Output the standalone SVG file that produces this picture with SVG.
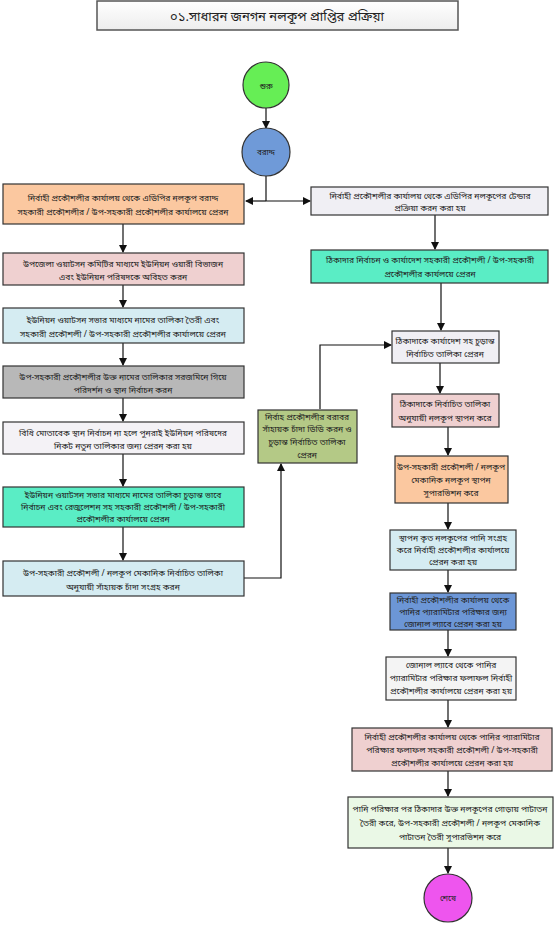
<svg xmlns="http://www.w3.org/2000/svg" width="554" height="928" viewBox="0 0 554 928">
<defs>
<marker id="ah" markerWidth="8" markerHeight="8" refX="7" refY="4" orient="auto" markerUnits="userSpaceOnUse"><path d="M0,0 L8,4 L0,8 Z" fill="#111"/></marker>
<linearGradient id="tg" x1="0" y1="0" x2="0" y2="1"><stop offset="0" stop-color="#ffffff"/><stop offset="1" stop-color="#ededed"/></linearGradient>
</defs>
<style>
.b{stroke:#333;stroke-width:1.2}
.t{font-family:"Noto Sans Bengali","Noto Sans",sans-serif;font-size:8.5px;fill:#222;text-anchor:middle}
.c{stroke:#111;stroke-width:1.2;fill:none}
</style>
<rect width="554" height="928" fill="#fff"/>
<g id="title"><rect x="97" y="1" width="361" height="29" fill="url(#tg)" stroke="#555" stroke-width="1.5"/><text class="t" x="277" y="21" style="font-size:13px">০১.সাধারন জনগন নলকূপ প্রাপ্তির প্রক্রিয়া</text></g>
<g id="connectors">
<line class="c" x1="266" y1="108" x2="266" y2="128" marker-end="url(#ah)"/>
<line class="c" x1="266" y1="176" x2="266" y2="201"/>
<line class="c" x1="266" y1="201" x2="246" y2="201" marker-end="url(#ah)"/>
<line class="c" x1="266" y1="201" x2="310" y2="201" marker-end="url(#ah)"/>
<line class="c" x1="123" y1="224" x2="123" y2="252" marker-end="url(#ah)"/>
<line class="c" x1="123" y1="285" x2="123" y2="307" marker-end="url(#ah)"/>
<line class="c" x1="123" y1="343" x2="123" y2="365" marker-end="url(#ah)"/>
<line class="c" x1="123" y1="398" x2="123" y2="421" marker-end="url(#ah)"/>
<line class="c" x1="123" y1="454" x2="123" y2="486" marker-end="url(#ah)"/>
<line class="c" x1="123" y1="527" x2="123" y2="560" marker-end="url(#ah)"/>
<polyline class="c" points="244,578 281,578 281,464" marker-end="url(#ah)"/>
<polyline class="c" points="320,409 320,345 391,345" marker-end="url(#ah)"/>
<line class="c" x1="435" y1="215" x2="435" y2="249" marker-end="url(#ah)"/>
<line class="c" x1="441" y1="283" x2="441" y2="330" marker-end="url(#ah)"/>
<line class="c" x1="440" y1="363" x2="440" y2="393" marker-end="url(#ah)"/>
<line class="c" x1="448" y1="427" x2="448" y2="455" marker-end="url(#ah)"/>
<line class="c" x1="448" y1="503" x2="448" y2="529" marker-end="url(#ah)"/>
<line class="c" x1="448" y1="570" x2="448" y2="592" marker-end="url(#ah)"/>
<line class="c" x1="448" y1="630" x2="448" y2="656" marker-end="url(#ah)"/>
<line class="c" x1="448" y1="700" x2="448" y2="727" marker-end="url(#ah)"/>
<line class="c" x1="448" y1="771" x2="448" y2="796" marker-end="url(#ah)"/>
<line class="c" x1="448" y1="848" x2="448" y2="873" marker-end="url(#ah)"/>
</g>
<g id="start"><circle cx="266" cy="85" r="23" fill="#66ee55" stroke="#333" stroke-width="1.2"/><text class="t" x="266" y="89">শুরু</text></g>
<g id="alloc"><circle cx="266" cy="152" r="24" fill="#6f9ad8" stroke="#333" stroke-width="1.2"/><text class="t" x="266" y="155" style="font-size:8px">বরাদ্দ</text></g>
<g id="l1"><rect class="b" x="3" y="184" width="241" height="40" fill="#fbc8a0"/><text class="t" x="123" y="201">নির্বাহী প্রকৌশলীর কার্যালয় থেকে এডিপির নলকূপ বরাদ্দ</text><text class="t" x="123" y="215">সহকারী প্রকৌশলীর / উপ-সহকারী প্রকৌশলীর কার্যালয়ে প্রেরন</text></g>
<g id="l2"><rect class="b" x="3" y="253" width="241" height="32" fill="#efd0d0"/><text class="t" x="123" y="267">উপজেলা ওয়াটসন কমিটির মাধ্যমে ইউনিয়ন ওয়ারী বিভাজন</text><text class="t" x="123" y="280">এবং ইউনিয়ন পরিষদকে  অবিহত করন</text></g>
<g id="l3"><rect class="b" x="3" y="308" width="241" height="35" fill="#d5ecf2"/><text class="t" x="123" y="323">ইউনিয়ন ওয়াটসন সভার মাধ্যমে নামের  তালিকা তৈরী এবং</text><text class="t" x="123" y="337">সহকারী প্রকৌশলী / উপ-সহকারী প্রকৌশলীর কার্যালয়ে প্রেরন</text></g>
<g id="l4"><rect class="b" x="3" y="366" width="241" height="32" fill="#b8b8b8"/><text class="t" x="123" y="380">উপ-সহকারী প্রকৌশলীর উক্ত নামের তালিকার সরজমিনে গিয়ে</text><text class="t" x="123" y="393">পরিদর্শন ও স্থান নির্বাচন করন</text></g>
<g id="l5"><rect class="b" x="3" y="422" width="241" height="32" fill="#f4f2f6"/><text class="t" x="123" y="436">বিধি মোতাবেক স্থান নির্বাচন না হলে পুনরাই ইউনিয়ন পরিষদের</text><text class="t" x="123" y="449">নিকট নতুন তালিকার জন্য প্রেরন করা হয়</text></g>
<g id="l6"><rect class="b" x="3" y="487" width="241" height="40" fill="#5aedc5"/><text class="t" x="123" y="498">ইউনিয়ন ওয়াটসন সভার মাধ্যমে নামের তালিকা চুড়ান্ত ভাবে</text><text class="t" x="123" y="510">নির্বাচন এবং রেজুলেশন সহ সহকারী প্রকৌশলী / উপ-সহকারী</text><text class="t" x="123" y="522">প্রকৌশলীর কার্যালয়ে প্রেরন</text></g>
<g id="l7"><rect class="b" x="3" y="561" width="241" height="35" fill="#d5ecf2"/><text class="t" x="123" y="576">উপ-সহকারী প্রকৌশলী / নলকূপ মেকানিক নির্বাচিত তালিকা</text><text class="t" x="123" y="590">অনুযায়ী সাঁহায়ক চাঁদা সংগ্রহ করন</text></g>
<g id="m1"><rect class="b" x="258" y="410" width="99" height="53" fill="#b4c986"/><text class="t" x="307" y="420">নির্বাহ প্রকৌশলীর বরাবর</text><text class="t" x="307" y="432">সাঁহায়ক চাঁদা ডিডি করন ও</text><text class="t" x="307" y="445">চুড়ান্ত নির্বাচিত তালিকা</text><text class="t" x="307" y="458">প্রেরন</text></g>
<g id="r1"><rect class="b" x="311" y="187" width="237" height="28" fill="#f0eff4"/><text class="t" x="430" y="199">নির্বাহী প্রকৌশলীর কার্যালয় থেকে এডিপির নলকূপের টেন্ডার</text><text class="t" x="430" y="211">প্রক্রিয়া করন করা হয়</text></g>
<g id="r2"><rect class="b" x="311" y="250" width="237" height="33" fill="#5aedc5"/><text class="t" x="430" y="263">ঠিকাদার নির্বাচন ও কার্যাদেশ সহকারী প্রকৌশলী / উপ-সহকারী</text><text class="t" x="430" y="277">প্রকৌশলীর কার্যলয়ে প্রেরন</text></g>
<g id="r3"><rect class="b" x="392" y="331" width="107" height="32" fill="#f0eff4"/><text class="t" x="445" y="344">ঠিকাদাকে কার্যাদেশ সহ চুড়ান্ত</text><text class="t" x="445" y="357">নির্বাচিত তালিকা প্রেরন</text></g>
<g id="r4"><rect class="b" x="392" y="394" width="107" height="33" fill="#efd0d0"/><text class="t" x="445" y="407">ঠিকাদাকে নির্বাচিত তালিকা</text><text class="t" x="445" y="421">অনুযায়ী নলকূপ স্থাপন করে</text></g>
<g id="r5"><rect class="b" x="395" y="456" width="113" height="47" fill="#fbc8a0"/><text class="t" x="451" y="470">উপ-সহকারী প্রকৌশলী / নলকূপ</text><text class="t" x="451" y="483">মেকানিক নলকূপ স্থাপন</text><text class="t" x="451" y="496">সুপারভিশন করে</text></g>
<g id="r6"><rect class="b" x="390" y="530" width="126" height="40" fill="#d5ecf2"/><text class="t" x="453" y="541">স্থাপন কৃত নলকূপের পানি সংগ্রহ</text><text class="t" x="453" y="553">করে নির্বাহী প্রকৌশলীর কার্যালয়ে</text><text class="t" x="453" y="565">প্রেরন করা হয়</text></g>
<g id="r7"><rect class="b" x="390" y="593" width="126" height="37" fill="#6c96d6"/><text class="t" x="453" y="603">নির্বাহী প্রকৌশলীর কার্যালয় থেকে</text><text class="t" x="453" y="615">পানির প্যারামিটার পরিক্ষার জন্য</text><text class="t" x="453" y="627">জোনাল ল্যাবে প্রেরন করা হয়</text></g>
<g id="r8"><rect class="b" x="386" y="657" width="130" height="43" fill="#f4f4f4"/><text class="t" x="451" y="668">জোনাল ল্যাবে থেকে পানির</text><text class="t" x="451" y="681">প্যারামিটার পরিক্ষার ফলাফল  নির্বাহী</text><text class="t" x="451" y="694">প্রকৌশলীর কার্যালয়ে প্রেরন করা হয়</text></g>
<g id="r9"><rect class="b" x="352" y="728" width="200" height="43" fill="#efd0d0"/><text class="t" x="452" y="740">নির্বাহী প্রকৌশলীর কার্যালয় থেকে পানির প্যারামিটার</text><text class="t" x="452" y="753">পরিক্ষার ফলাফল সহকারী প্রকৌশলী / উপ-সহকারী</text><text class="t" x="452" y="766">প্রকৌশলীর কার্যালয়ে প্রেরন করা হয়</text></g>
<g id="r10"><rect class="b" x="348" y="797" width="205" height="51" fill="#eaf8e6"/><text class="t" x="450" y="812">পানি পরিক্ষার পর ঠিকাদার উক্ত নলকূপের গোড়ায় পাটাতন</text><text class="t" x="450" y="826">তৈরী করে, উপ-সহকারী প্রকৌশলী / নলকূপ মেকানিক</text><text class="t" x="450" y="840">পাটাতন তৈরী সুপারভিশন করে</text></g>
<g id="end"><circle cx="448" cy="898" r="24" fill="#ee55ee" stroke="#333" stroke-width="1.2"/><text class="t" x="448" y="901" style="font-size:8px">শেষে</text></g>
</svg>
